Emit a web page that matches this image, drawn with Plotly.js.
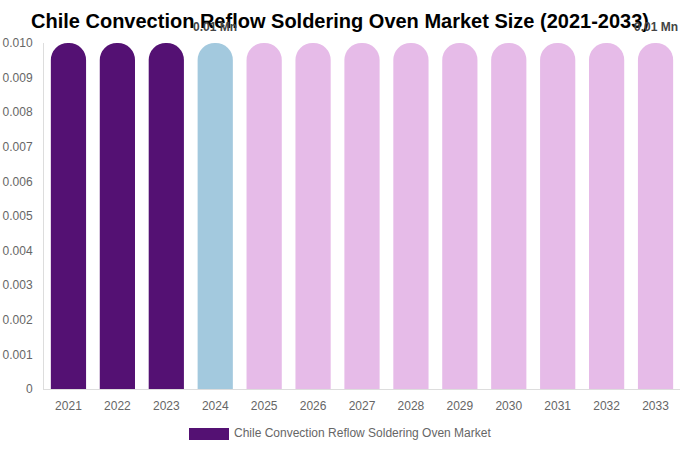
<!DOCTYPE html>
<html>
<head>
<meta charset="utf-8">
<script src="https://cdn.plot.ly/plotly-3.0.1.min.js"></script>
<style>
  html, body { margin: 0; padding: 0; background: #fff; }
  #chart { width: 680px; height: 450px; }
</style>
</head>
<body>
<div id="chart"></div>
<script>
const YEARS = ['2021', '2022', '2023', '2024', '2025', '2026', '2027',
  '2028', '2029', '2030', '2031', '2032', '2033'];
const MARKET_SIZE = [0.01, 0.01, 0.01, 0.01, 0.01, 0.01, 0.01,
  0.01, 0.01, 0.01, 0.01, 0.01, 0.01];
const Y_TICKS = [0, 0.001, 0.002, 0.003, 0.004, 0.005, 0.006, 0.007, 0.008, 0.009, 0.010];
const Y_TICK_TEXT = ['0', '0.001', '0.002', '0.003', '0.004', '0.005', '0.006',
  '0.007', '0.008', '0.009', '0.010'];
const LABELED_YEARS = ['2024', '2033'];
const SERIES_NAME = 'Chile Convection Reflow Soldering Oven Market';

// historical / base year / forecast
const HIST_COLOR = '#541173';
const BASE_COLOR = '#a3c9de';
const FCST_COLOR = '#e6bbe8';

function barColor(year) {
  const y = Number(year);
  if (y < 2024) return HIST_COLOR;
  if (y === 2024) return BASE_COLOR;
  return FCST_COLOR;
}

const FONT = 'Liberation Sans, Arial, sans-serif';
const W = 680, H = 450;
const M = { t: 43, l: 44, r: 0, b: 61 };

// pixel -> paper helpers for the hand-drawn legend
const px = v => (v - M.l) / (W - M.l - M.r);
const py = v => (H - M.b - v) / (H - M.t - M.b);

const trace = {
  type: 'bar',
  x: YEARS,
  y: MARKET_SIZE,
  name: SERIES_NAME,
  marker: {
    color: YEARS.map(barColor),
    cornerradius: '50%',
    line: { width: 0 },
  },
  showlegend: false,
  hoverinfo: 'x+y',
};

// category axis: refer to bars by index, a year string would be read as a number
const annotations = LABELED_YEARS.map(yr => {
  const i = YEARS.indexOf(yr);
  return {
    x: i,
    y: MARKET_SIZE[i],
    xref: 'x', yref: 'y',
    text: '<b>' + MARKET_SIZE[i].toFixed(2) + ' Mn</b>',
    showarrow: false,
    yanchor: 'bottom',
    yshift: 7,
    font: { family: FONT, size: 12, color: '#444' },
  };
});

// legend drawn by hand so the swatch can be wide like the original
annotations.push({
  x: px(232), y: py(433), xref: 'paper', yref: 'paper',
  text: SERIES_NAME,
  showarrow: false,
  xanchor: 'left', yanchor: 'middle',
  font: { family: FONT, size: 12, color: '#666' },
});

const layout = {
  width: W,
  height: H,
  margin: M,
  paper_bgcolor: '#fff',
  plot_bgcolor: '#fff',
  font: { family: FONT, size: 12, color: '#666' },
  title: {
    text: '<b>Chile Convection Reflow Soldering Oven Market Size (2021-2033)</b>',
    font: { family: FONT, size: 20, color: '#000' },
    x: 0.5, xanchor: 'center',
    y: 0.953, yanchor: 'middle',
  },
  bargap: 0.28,
  xaxis: {
    type: 'category',
    range: [-0.5, YEARS.length - 0.5],
    showgrid: false,
    showline: true,
    linecolor: '#ddd',
    linewidth: 1,
    ticks: '',
    ticklabelstandoff: 6,
    tickfont: { family: FONT, size: 12, color: '#666' },
  },
  yaxis: {
    range: [0, 0.010],
    tickmode: 'array',
    tickvals: Y_TICKS,
    ticktext: Y_TICK_TEXT,
    showgrid: false,
    zeroline: false,
    showline: true,
    linecolor: '#ddd',
    linewidth: 1,
    ticks: '',
    ticklabelstandoff: 8,
    tickfont: { family: FONT, size: 12, color: '#666' },
  },
  showlegend: false,
  annotations,
  shapes: [{
    type: 'rect', xref: 'paper', yref: 'paper',
    x0: px(189), x1: px(229), y0: py(440), y1: py(428),
    fillcolor: HIST_COLOR, line: { width: 0 },
  }],
};

Plotly.newPlot('chart', [trace], layout, { displayModeBar: false, staticPlot: true });
</script>
</body>
</html>
